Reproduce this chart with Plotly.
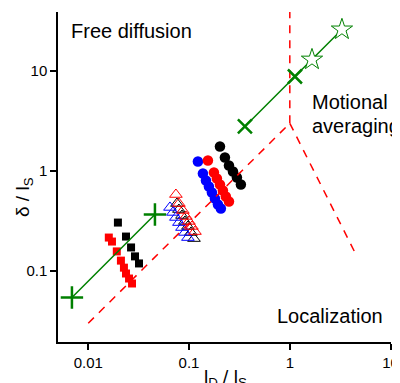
import plotly.graph_objects as go

# ---- data ----
red_sq_x = [0.0160, 0.0172, 0.0192, 0.0211, 0.0226, 0.0237, 0.0254, 0.0272]
red_sq_y = [0.216, 0.197, 0.157, 0.127, 0.108, 0.0944, 0.0841, 0.075]
blk_sq_x = [0.0197, 0.0237, 0.0266, 0.0291, 0.0319]
blk_sq_y = [0.305, 0.221, 0.172, 0.140, 0.119]

red_tri_x = [0.0741, 0.0794, 0.0869, 0.0931, 0.0998, 0.1069, 0.1145]
red_tri_y = [0.582, 0.473, 0.403, 0.351, 0.313, 0.279, 0.248]
blu_tri_x = [0.0647, 0.0692, 0.0741, 0.0794, 0.0851, 0.0910, 0.0975]
blu_tri_y = [0.432, 0.385, 0.343, 0.305, 0.272, 0.243, 0.216]
blk_tri_x = [0.0759, 0.0794, 0.0851, 0.0910, 0.0975, 0.1045, 0.112]
blk_tri_y = [0.473, 0.412, 0.359, 0.313, 0.279, 0.243, 0.211]

blu_ci_x = [0.1225, 0.1374, 0.1472, 0.1575, 0.1687, 0.1807, 0.1936, 0.207]
blu_ci_y = [1.245, 0.944, 0.804, 0.700, 0.610, 0.531, 0.462, 0.422]
red_ci_x = [0.154, 0.1767, 0.189, 0.2027, 0.217, 0.232, 0.249]
red_ci_y = [1.274, 0.966, 0.841, 0.733, 0.638, 0.556, 0.495]
blk_ci_x = [0.2027, 0.227, 0.249, 0.273, 0.2987, 0.327]
blk_ci_y = [1.758, 1.365, 1.135, 0.989, 0.861, 0.733]

plus_x = [0.00689, 0.0459]
plus_y = [0.0543, 0.367]
xmark_x = [0.3585, 1.124]
xmark_y = [2.79, 8.81]
star_x = [1.66, 3.29]
star_y = [13.0, 26.0]

# theory (red dashed) lines
loc_x = [0.01, 1.0]
loc_y = [0.03, 3.0]
ma_x = [1.0, 4.6]
ma_y = [3.0, 0.142]
vert_x = [1.0, 1.0]
vert_y = [3.0, 100.0]

x_ticks = [0.01, 0.1, 1, 10]
x_ticktext = ["0.01", "0.1", "1", "10"]
y_ticks = [0.1, 1, 10]
y_ticktext = ["0.1", "1", "10"]

FONT = "Liberation Sans, Arimo, Arial, sans-serif"
GREEN = "#008000"

# the page body adds an 8 px offset; positions below are in window pixels
OFF = 8
PL, PR, PT, PB = 58, 391, 12, 342  # plot area in window pixels

fig = go.Figure()

def sc(x, y, symbol, color, size, lw=0):
    fig.add_trace(go.Scatter(
        x=x, y=y, mode="markers",
        marker=dict(symbol=symbol, size=size, color=color,
                    line=dict(color=color, width=lw)),
        showlegend=False, hoverinfo="skip"))

sc(red_sq_x, red_sq_y, "square", "#ff0000", 8)
sc(blk_sq_x, blk_sq_y, "square", "#000000", 8)
sc(blk_tri_x, blk_tri_y, "triangle-up-open", "#000000", 11, lw=1)
sc(blu_tri_x, blu_tri_y, "triangle-up-open", "#0000ff", 11, lw=1)
sc(red_tri_x, red_tri_y, "triangle-up-open", "#ff0000", 11, lw=1)
sc(blk_ci_x, blk_ci_y, "circle", "#000000", 10.5)
sc(blu_ci_x, blu_ci_y, "circle", "#0000ff", 10.5)
sc(red_ci_x, red_ci_y, "circle", "#ff0000", 10.5)

# red dashed theory lines
for xs, ys in [(loc_x, loc_y), (ma_x, ma_y), (vert_x, vert_y)]:
    fig.add_trace(go.Scatter(x=xs, y=ys, mode="lines",
                             line=dict(color="#ff0000", width=1.5, dash="8px,7px"),
                             showlegend=False, hoverinfo="skip"))

# green series
fig.add_trace(go.Scatter(x=plus_x, y=plus_y, mode="lines+markers",
                         line=dict(color=GREEN, width=1.5),
                         marker=dict(symbol="cross-thin", size=16, color=GREEN,
                                     line=dict(color=GREEN, width=2.5)),
                         showlegend=False, hoverinfo="skip"))
fig.add_trace(go.Scatter(x=xmark_x + star_x, y=xmark_y + star_y, mode="lines",
                         line=dict(color=GREEN, width=1.5),
                         showlegend=False, hoverinfo="skip"))
fig.add_trace(go.Scatter(x=xmark_x, y=xmark_y, mode="markers",
                         marker=dict(symbol="x-thin", size=14, color=GREEN,
                                     line=dict(color=GREEN, width=2.5)),
                         showlegend=False, hoverinfo="skip"))
fig.add_trace(go.Scatter(x=star_x, y=star_y, mode="markers",
                         marker=dict(symbol="star", size=16, color="white",
                                     line=dict(color=GREEN, width=1)),
                         showlegend=False, hoverinfo="skip"))

axis_common = dict(type="log", showline=True, linecolor="black", linewidth=1.5,
                   ticks="outside", ticklen=6, tickwidth=1.5, tickcolor="black",
                   showgrid=False, zeroline=False, mirror=False, automargin=False,
                   tickfont=dict(family=FONT, size=15, color="black"))

fig.update_layout(
    width=400, height=383,
    margin=dict(l=PL - OFF, r=400 - (PR - OFF), t=PT - OFF, b=383 - (PB - OFF)),
    paper_bgcolor="white", plot_bgcolor="white",
    font=dict(family=FONT, color="black"),
    xaxis=dict(range=[-2.30, 1.004], tickvals=x_ticks, ticktext=x_ticktext, **axis_common),
    yaxis=dict(range=[-1.71, 1.59], tickvals=y_ticks, ticktext=y_ticktext, **axis_common),
)

def ann(text, x, y, size=20, xanchor="left", angle=0):
    fig.add_annotation(text=text, x=x, y=y, xref="paper", yref="paper",
                       xanchor=xanchor, yanchor="middle", showarrow=False,
                       textangle=angle, font=dict(family=FONT, size=size, color="black"))

def px(xp):
    return (xp - PL) / float(PR - PL)

def py(yp):
    return (PB - yp) / float(PB - PT)

ann("Free diffusion", px(69), py(31))
ann("Motional", px(310), py(102))
ann("averaging", px(310), py(126))
ann("Localization", px(275), py(316))
ann("l<sub>D</sub> / l<sub>S</sub>", px(225), py(378), size=19, xanchor="center")
ann("δ / l<sub>S</sub>", px(24), py(197), size=19, xanchor="center", angle=-90)

fig.write_html("out.html")
